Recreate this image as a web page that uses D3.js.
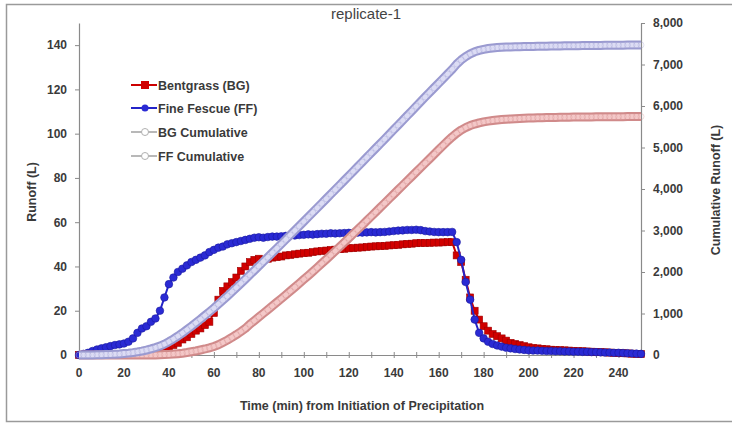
<!DOCTYPE html>
<html>
<head>
<meta charset="utf-8">
<script src="https://cdn.jsdelivr.net/npm/d3@7"></script>
<style>
  body { margin: 0; background: #fff; }
  text { font-family: "Liberation Sans", Arial, sans-serif; }
</style>
</head>
<body>
<div id="chart"></div>
<script>
// sample times (min)
const times = [0,2,4,6,8,10,12,14,16,18,20,22,24,26,28,30,32,34,36,38,40,42,44,46,48,50,52,54,56,58,
  60,62,64,66,68,70,72,74,76,78,80,82,84,86,88,90,92,94,96,98,100,102,104,106,108,110,112,114,116,118,
  120,122,124,126,128,130,132,134,136,138,140,142,144,146,148,150,152,154,156,158,160,162,164,166,168,170,172,174,176,178,
  180,182,184,186,188,190,192,194,196,198,200,202,204,206,208,210,212,214,216,218,220,222,224,226,228,230,232,234,236,238,
  240,242,244,246,248,250];

// runoff (L), left axis
const bgRunoff = [0,0,0,0,0,0,0,0,0,0,0,0.1,0.2,0.3,0.4,0.5,0.8,1.2,1.8,2.5,3.2,4.5,5.5,7,8,9.5,11,12,13.5,15,
  19,25,29,31,33,35,38,40,42,43,43.5,43,43.5,44,44.2,44.5,45,45.2,45.5,45.8,46,46.2,46.5,46.8,47,47.2,47.4,47.6,47.8,48,
  48.2,48.3,48.5,48.6,48.8,49,49.1,49.2,49.3,49.5,49.6,49.8,50,50.2,50.3,50.5,50.6,50.6,50.7,50.8,50.8,50.9,51,51,45,42,34,26,20,16,
  13,11,9.5,8.5,7.5,6.5,5.5,5,4.5,4,3.5,3.2,3,2.8,2.6,2.4,2.3,2.2,2.1,2,1.9,1.8,1.7,1.6,1.5,1.4,1.3,1.2,1.1,1,
  0.9,0.8,0.7,0.6,0.5,0.4];

const ffRunoff = [0,0.5,1,1.8,2.5,3,3.5,4,4.5,4.8,5.2,6,7.5,10,12,13,15,16.5,20,26,32,35,37.5,39,40.5,42,43,44,45,46.5,
  47.5,48.5,49,50,50.5,51,51.5,52,52.5,53,53.2,53,53.3,53.5,53.5,53.6,53.8,54,54,54.2,54.3,54.5,54.4,54.6,54.8,54.8,55,54.9,55,55.1,
  55.2,55.2,55.3,55.3,55.4,55.5,55.4,55.5,55.6,55.8,56,56.2,56.3,56.5,56.5,56.6,56.4,56,55.8,55.6,55.5,55.5,55.5,55.6,51,43,33,25,16,10,
  7.5,6,5,4.3,3.8,3.3,3,2.7,2.5,2.3,2.1,2,2,1.9,1.8,1.8,1.7,1.7,1.6,1.6,1.5,1.5,1.4,1.4,1.3,1.3,1.2,1.1,1.1,1,
  1,0.9,0.8,0.7,0.6,0.5];

// cumulative runoff (L), right axis
const bgCumulative = [0,0,0,0,0,0,0,0,0,0,0,0,0,0,0,0,1,3,6,10,15,22,32,44,59,77,97,120,145,173,
  205,245,300,358,422,490,563,640,740,827,915,1003,1091,1180,1269,1359,1450,1541,1633,1726,1820,1915,2011,2108,2206,2305,2405,2506,2608,2711,
  2815,2919,3024,3129,3235,3341,3447,3553,3660,3767,3874,3981,4088,4195,4302,4409,4516,4623,4730,4837,4944,5051,5155,5255,5345,5420,5480,5528,5565,5594,
  5617,5636,5651,5663,5673,5681,5688,5694,5699,5704,5708,5712,5715,5718,5721,5723,5725,5727,5729,5731,5733,5734,5735,5736,5737,5738,5739,5740,5741,5742,
  5743,5743,5744,5744,5745,5745];

const ffCumulative = [0,0,1,3,5,8,11,15,20,25,35,45,58,75,95,120,148,180,215,262,320,385,455,530,610,690,775,860,950,1040,
  1130,1225,1322,1420,1520,1622,1725,1828,1933,2038,2145,2250,2357,2463,2570,2677,2785,2893,3001,3109,3218,3327,3436,3545,3655,3765,3875,3985,4095,4205,
  4316,4427,4538,4649,4760,4871,4982,5093,5204,5316,5428,5540,5653,5766,5879,5992,6105,6217,6329,6440,6551,6662,6773,6884,7010,7110,7190,7255,7305,7340,
  7365,7385,7398,7408,7415,7420,7424,7427,7430,7432,7434,7436,7438,7440,7442,7444,7446,7447,7449,7450,7452,7453,7455,7456,7457,7459,7460,7461,7462,7464,
  7465,7466,7467,7468,7469,7470];

const xTicks = [0,20,40,60,80,100,120,140,160,180,200,220,240];
const yTicks = [0,20,40,60,80,100,120,140];
const y2Ticks = [0,1000,2000,3000,4000,5000,6000,7000,8000];
const legendLabels = ["Bentgrass (BG)", "Fine Fescue (FF)", "BG Cumulative", "FF Cumulative"];

const W = 732, H = 425;
const m = {left: 79, right: 641, top: 23, bottom: 355};

const svg = d3.select('#chart').append('svg')
  .attr('width', W)
  .attr('height', H);

// outer frame
svg.append('rect')
  .attr('x', 6.5).attr('y', 4.5)
  .attr('width', W - 5).attr('height', H - 8)
  .attr('fill', 'none')
  .attr('stroke', '#9a9a9a')
  .attr('stroke-width', 1.5);

const x = d3.scaleLinear([0, 250], [m.left, m.right]);
const y = d3.scaleLinear([0, 150], [m.bottom, m.top]);
const y2 = d3.scaleLinear([0, 8000], [m.bottom, m.top]);

const axisColor = '#8a8a8a';
const labelColor = '#3a3a3a';

// x axis with minor ticks every 10
const xAxis = svg.append('g')
  .attr('transform', 'translate(0,' + m.bottom + ')')
  .call(d3.axisBottom(x).tickValues(d3.range(0, 251, 10)).tickSize(4).tickSizeOuter(0).tickFormat(''));
xAxis.selectAll('.tick line').attr('y1', -3).attr('y2', 3);
xAxis.append('g').selectAll('text')
  .data(xTicks)
  .join('text')
  .attr('x', d => x(d))
  .attr('y', 22)
  .attr('text-anchor', 'middle')
  .attr('font-size', 12)
  .attr('font-weight', 'bold')
  .attr('fill', labelColor)
  .text(d => d);

const yAxis = svg.append('g')
  .attr('transform', 'translate(' + m.left + ',0)')
  .call(d3.axisLeft(y).tickValues(yTicks).tickSize(4).tickSizeOuter(0).tickPadding(8));
yAxis.selectAll('.tick line').attr('x1', 0);
yAxis.selectAll('.tick line').attr('x2', -4);

const y2Axis = svg.append('g')
  .attr('transform', 'translate(' + m.right + ',0)')
  .call(d3.axisRight(y2).tickValues(y2Ticks).tickSize(4).tickSizeOuter(0).tickPadding(8).tickFormat(d3.format(',')));

[xAxis, yAxis, y2Axis].forEach(g => {
  g.select('.domain').attr('stroke', axisColor).attr('stroke-width', 1.2);
  g.selectAll('.tick line').attr('stroke', axisColor);
  g.selectAll('.tick text')
    .attr('font-size', 12)
    .attr('font-weight', 'bold')
    .attr('fill', labelColor)
    .attr('font-family', '"Liberation Sans", Arial, sans-serif');
});

// title
svg.append('text')
  .attr('x', 366).attr('y', 19)
  .attr('text-anchor', 'middle')
  .attr('font-size', 15)
  .attr('fill', '#444')
  .text('replicate-1');

// axis titles
svg.append('text')
  .attr('transform', 'translate(36,192) rotate(-90)')
  .attr('text-anchor', 'middle')
  .attr('font-size', 12.5)
  .attr('font-weight', 'bold')
  .attr('fill', labelColor)
  .text('Runoff (L)');

svg.append('text')
  .attr('transform', 'translate(720,190) rotate(-90)')
  .attr('text-anchor', 'middle')
  .attr('font-size', 12.5)
  .attr('font-weight', 'bold')
  .attr('fill', labelColor)
  .text('Cumulative Runoff (L)');

svg.append('text')
  .attr('x', 362).attr('y', 410)
  .attr('text-anchor', 'middle')
  .attr('font-size', 12.5)
  .attr('font-weight', 'bold')
  .attr('fill', labelColor)
  .text('Time (min) from Initiation of Precipitation');

const bgData = times.map((t, i) => ({t, v: bgRunoff[i]}));
const ffData = times.map((t, i) => ({t, v: ffRunoff[i]}));
const bgCumData = times.map((t, i) => ({t, v: bgCumulative[i]}));
const ffCumData = times.map((t, i) => ({t, v: ffCumulative[i]}));

const line1 = d3.line().x(d => x(d.t)).y(d => y(d.v));
const line2 = d3.line().x(d => x(d.t)).y(d => y2(d.v));

// runoff series
svg.append('path')
  .attr('d', line1(bgData))
  .attr('fill', 'none').attr('stroke', '#cc0000').attr('stroke-width', 2);
svg.append('g').selectAll('rect')
  .data(bgData)
  .join('rect')
  .attr('x', d => x(d.t) - 3.5).attr('y', d => y(d.v) - 3.5)
  .attr('width', 7).attr('height', 7)
  .attr('fill', '#d00000')
  .attr('stroke', '#a00000').attr('stroke-width', 0.6);

svg.append('path')
  .attr('d', line1(ffData))
  .attr('fill', 'none').attr('stroke', '#2424c8').attr('stroke-width', 2);
svg.append('g').selectAll('circle')
  .data(ffData)
  .join('circle')
  .attr('cx', d => x(d.t)).attr('cy', d => y(d.v))
  .attr('r', 3.8)
  .attr('fill', '#2a2ad4')
  .attr('stroke', '#1a1aa0').attr('stroke-width', 0.6);

// cumulative series (drawn on top)
function cumSeries(data, lineColor, fill) {
  svg.append('path')
    .attr('d', line2(data))
    .attr('fill', 'none').attr('stroke', lineColor).attr('stroke-width', 9)
    .attr('stroke-linejoin', 'round');
  svg.append('path')
    .attr('d', line2(data))
    .attr('fill', 'none').attr('stroke', fill).attr('stroke-width', 5)
    .attr('stroke-linejoin', 'round');
  svg.append('g').selectAll('circle')
    .data(data)
    .join('circle')
    .attr('cx', d => x(d.t)).attr('cy', d => y2(d.v))
    .attr('r', 3)
    .attr('fill', 'none')
    .attr('stroke', lineColor).attr('stroke-width', 0.5).attr('stroke-opacity', 0.6);
}
cumSeries(bgCumData, '#d08a8a', '#f4c8c8');
cumSeries(ffCumData, '#9a9ad0', '#dcdcf4');

// legend
const legend = svg.append('g');
const legendY = [85, 108, 132, 156];
const legendKinds = [
  {stroke: '#cc0000', fill: '#d00000', shape: 'rect'},
  {stroke: '#2424c8', fill: '#2a2ad4', shape: 'circle'},
  {stroke: '#c08080', fill: '#ffffff', shape: 'circle'},
  {stroke: '#9090b8', fill: '#ffffff', shape: 'circle'}
];
legendLabels.forEach((lab, i) => {
  const g = legend.append('g').attr('transform', 'translate(0,' + legendY[i] + ')');
  const k = legendKinds[i];
  g.append('line').attr('x1', 131).attr('x2', 157).attr('y1', 0).attr('y2', 0)
    .attr('stroke', i < 2 ? k.stroke : '#b8b8b8').attr('stroke-width', 2);
  if (k.shape === 'rect') {
    g.append('rect').attr('x', 141).attr('y', -4).attr('width', 8).attr('height', 8).attr('fill', k.fill);
  } else {
    g.append('circle').attr('cx', 145).attr('cy', 0).attr('r', 3.5)
      .attr('fill', k.fill).attr('stroke', i < 2 ? 'none' : '#b0b0b0').attr('stroke-width', 1);
  }
  g.append('text')
    .attr('x', 158).attr('y', 4.5)
    .attr('font-size', 12.5)
    .attr('font-weight', 'bold')
    .attr('fill', labelColor)
    .text(lab);
});
</script>
</body>
</html>
